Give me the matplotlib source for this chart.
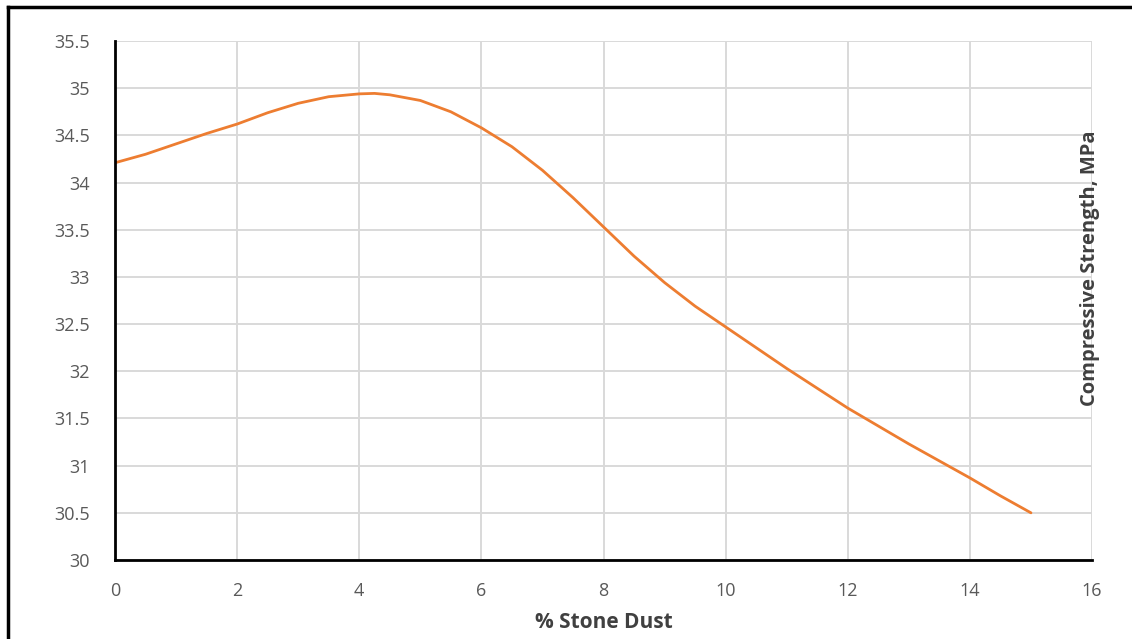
import matplotlib.pyplot as plt
from matplotlib.lines import Line2D

# values
stone_dust = [0, 0.5, 1, 1.5, 2, 2.5, 3, 3.5, 4, 4.25, 4.5, 5, 5.5, 6, 6.5, 7, 7.5,
              8, 8.5, 9, 9.5, 10, 10.5, 11, 11.5, 12, 12.5, 13, 13.5, 14, 14.5, 15]
strength = [34.21, 34.30, 34.41, 34.52, 34.62, 34.74, 34.84, 34.91, 34.94, 34.945,
            34.93, 34.87, 34.75, 34.58, 34.38, 34.13, 33.84, 33.53, 33.22, 32.94,
            32.69, 32.47, 32.25, 32.03, 31.82, 31.61, 31.42, 31.23, 31.05, 30.87,
            30.68, 30.50]
x_ticks = [0, 2, 4, 6, 8, 10, 12, 14, 16]
y_ticks = [30, 30.5, 31, 31.5, 32, 32.5, 33, 33.5, 34, 34.5, 35, 35.5]
y_tick_labels = ['30', '30.5', '31', '31.5', '32', '32.5', '33', '33.5', '34', '34.5', '35', '35.5']

plt.rcParams['font.family'] = ['Open Sans', 'DejaVu Sans']

fig = plt.figure(figsize=(11.32, 6.39), dpi=100)
ax = fig.add_axes([0.1016, 0.1236, 0.8631, 0.8122])

ax.plot(stone_dust, strength, color='#ED7D31', linewidth=2.0,
        solid_capstyle='round', solid_joinstyle='round')

ax.set_xlim(0, 16)
ax.set_ylim(30, 35.5)
ax.set_xticks(x_ticks)
ax.set_yticks(y_ticks)
ax.set_yticklabels(y_tick_labels)
ax.tick_params(length=0, labelsize=13, labelcolor='#595959')
ax.tick_params(axis='x', pad=16)
ax.tick_params(axis='y', pad=18)
ax.grid(color='#D9D9D9', linewidth=1.4)
ax.set_axisbelow(True)

for s in ['top', 'right']:
    ax.spines[s].set_visible(False)
for s in ['left', 'bottom']:
    ax.spines[s].set_linewidth(2)
    ax.spines[s].set_color('black')
    ax.spines[s].set_zorder(3)

fig.text(604 / 1132, 1 - 622 / 639, '% Stone Dust', ha='center', va='center',
         fontsize=15, fontweight='bold', color='#404040')
fig.text(1089.5 / 1132, 1 - 268 / 639, 'Compressive Strength, MPa', ha='center', va='center',
         rotation=90, fontsize=14.5, fontweight='bold', color='#404040')

# outer frame (left and top edges visible in the reference)
fig.add_artist(Line2D([7.5 / 1132, 7.5 / 1132], [0, 1 - 7 / 639], color='black', linewidth=2.5,
                      transform=fig.transFigure))
fig.add_artist(Line2D([7.5 / 1132, 1], [1 - 7 / 639, 1 - 7 / 639], color='black', linewidth=2.5,
                      transform=fig.transFigure))

plt.savefig('out.png', dpi=100)
plt.close()
